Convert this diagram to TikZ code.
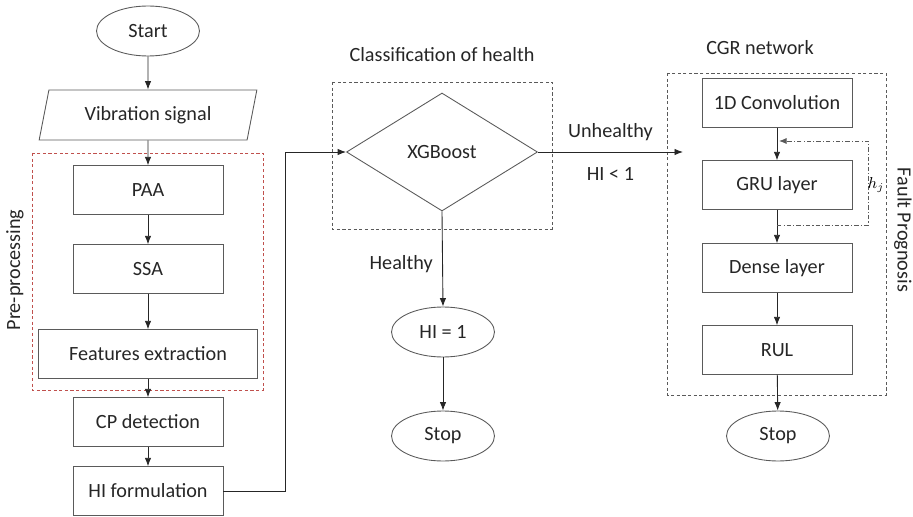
\documentclass[tikz,border=0pt]{standalone}
\usepackage{fontspec}
\setmainfont{Carlito}
\usepackage{amsmath}
\usetikzlibrary{arrows.meta,positioning,calc,shapes.geometric}
\definecolor{LineGray}{HTML}{5A5A5A}
\definecolor{TextGray}{HTML}{262626}
\definecolor{PreRed}{HTML}{C0504D}
\tikzset{
  proc/.style     = {draw=LineGray, rectangle, align=center, font=\fontsize{11.5}{13}\selectfont,
                     text=TextGray, minimum width=3cm, minimum height=0.97cm, inner sep=2pt},
  term/.style     = {draw=LineGray, ellipse, font=\fontsize{11.5}{13}\selectfont, text=TextGray,
                     minimum width=2.06cm, minimum height=1cm, inner sep=1pt},
  entrada/.style  = {draw=LineGray, trapezium, trapezium left angle=73, trapezium right angle=107,
                     trapezium stretches=true, font=\fontsize{11.5}{13}\selectfont, text=TextGray,
                     minimum width=4.38cm, minimum height=1cm, inner sep=1pt},
  decision/.style = {draw=LineGray, diamond, font=\fontsize{11.5}{13}\selectfont, text=TextGray,
                     minimum width=3.82cm, minimum height=2.36cm, inner sep=0pt, aspect=1.6},
  flecha/.style   = {-{Latex[length=1.7mm,width=1.3mm]}, black!85},
  fbk/.style      = {-{Latex[length=1.5mm,width=1.2mm]}, dash pattern=on 2.5pt off 1.2pt on 0.6pt off 1.2pt, LineGray},
  grupo/.style    = {dash pattern=on 1.8pt off 1.4pt, LineGray},
  grupored/.style = {dash pattern=on 1.8pt off 1.4pt, PreRed},
  lbl/.style      = {font=\fontsize{11.5}{13}\selectfont, text=TextGray},
  titulo/.style   = {font=\fontsize{11.5}{13}\selectfont, text=TextGray},
}
\begin{document}
\begin{tikzpicture}[x=0.02cm, y=-0.02cm, line width=0.5pt]
  \useasboundingbox (0,0) rectangle (913,517);

  % left column
  \node[term] (start) at (148,31) {Start};
  \node[entrada] (vib) at (148,115) {Vibration signal};
  \node[proc] (paa) at (148,190) {PAA};
  \node[proc] (ssa) at (148,269) {SSA};
  \node[proc, minimum width=4.38cm] (feat) at (148,354) {Features extraction};
  \node[proc] (cpd) at (148,422) {CP detection};
  \node[proc] (hif) at (148,491) {HI formulation};
  \draw[grupored] (32,153) rectangle (263,390);
  \node[titulo, rotate=90] (prelbl) at (15,270) {Pre-processing};

  \draw[flecha] (start) -- (vib);
  \draw[flecha] (vib) -- (paa);
  \draw[flecha] (paa) -- (ssa);
  \draw[flecha] (ssa) -- (feat);
  \draw[flecha] (feat) -- (cpd);
  \draw[flecha] (cpd) -- (hif);

  % classification
  \node[titulo] (clstit) at (442,55) {Classification of health};
  \draw[grupo] (332,82) rectangle (552,229);
  \node[decision] (xgb) at (442,152) {XGBoost};
  \node[term] (hi1) at (443,332) {HI = 1};
  \node[term] (stop1) at (443,436) {Stop};
  \draw[flecha] (hif.east) -- ++(62,0) |- (xgb.west);
  \draw[flecha] (xgb.south) -- node[lbl, left=2pt, pos=0.55] {Healthy} (hi1.north);
  \draw[flecha] (hi1) -- (stop1);

  % CGR network
  \node[titulo] (cgrtit) at (760,48) {CGR network};
  \draw[grupo] (667,73) rectangle (886,395);
  \node[proc] (conv) at (777,103) {1D Convolution};
  \node[proc] (gru) at (777,185) {GRU layer};
  \node[proc] (dense) at (777,268) {Dense layer};
  \node[proc] (rul) at (777,350) {RUL};
  \node[term] (stop2) at (778,436) {Stop};
  \node[titulo, rotate=-90] (faultlbl) at (903,230) {Fault Prognosis};
  \coordinate (unh) at (683,152);
  \draw[flecha] (xgb.east) -- node[lbl, above=3pt] {Unhealthy} node[lbl, below=5pt] {HI < 1} (unh);

  \draw[flecha] (conv) -- (gru);
  \draw[flecha] (gru) -- (dense);
  \draw[flecha] (dense) -- (rul);
  \draw[flecha] (rul) -- (stop2);
  \coordinate (fbin) at (777,225);
  \coordinate (fbout) at (779,141);
  \draw[fbk] (fbin) -- ++(91,0) |- (fbout);
  \node[font=\small] (hj) at (876,185) {$h_j$};
\end{tikzpicture}
\end{document}
